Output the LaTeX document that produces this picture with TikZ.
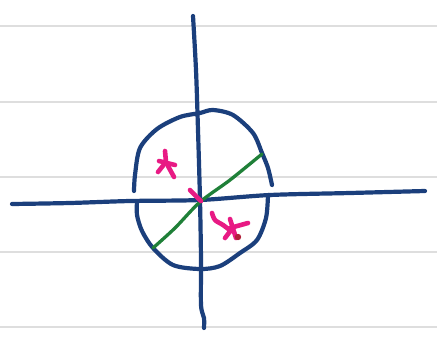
\documentclass[tikz,border=0pt]{standalone}
\usetikzlibrary{calc}
\usepackage{xcolor}
\definecolor{inkblue}{HTML}{1B3F7C}
\definecolor{inkgreen}{HTML}{1F8038}
\definecolor{inkpink}{HTML}{E81A84}
\definecolor{inkred}{HTML}{B0203A}
\definecolor{ruleline}{HTML}{DEDEDE}

\begin{document}
\begin{tikzpicture}[x=1pt, y=-1pt,
    bluepen/.style={inkblue, line width=4.2pt, line cap=round, line join=round},
    greenpen/.style={inkgreen, line width=3.3pt, line cap=round},
    pinkpen/.style={inkpink, line width=4.6pt, line cap=round, line join=round}]
    % paper
    \fill[white] (0,0) rectangle (437,338);
    \useasboundingbox (0,0) rectangle (437,338);
    \foreach \y in {26,102,177,252,327}
      \draw[ruleline, line width=1.3pt] (0,\y) -- (437,\y);
    % axes
    \draw[bluepen] plot[smooth] coordinates {(12,204) (70,203) (130,201) (200,200) (270,195) (350,193) (425,191)};
    \draw[bluepen] plot[smooth] coordinates {(193,16) (196,70) (198,130) (200,200) (201,260) (201,305) (204,318) (204,328)};
    % circle, in two strokes
    \draw[bluepen] plot[smooth] coordinates {(134,191) (135,175) (140,148) (157,129) (180,117) (200,113) (213,110) (233,115) (253,133) (262,153) (268,168) (272,185)};
    \draw[bluepen] plot[smooth] coordinates {(137,202) (137,215) (142,231) (153,248) (173,265) (200,269) (220,266) (240,253) (257,240) (266,218) (268,195)};
    % diameter
    \draw[greenpen] plot[smooth] coordinates {(153,248) (175,228) (200,202) (230,180) (262,154)};
    % marks
    \draw[pinkpen] (190,190) -- (201,201);
    \draw[pinkpen] (165,151) -- (166,162);
    \draw[pinkpen] (159,161) -- (175,165);
    \draw[pinkpen] (166,162) -- (158,172);
    \draw[pinkpen] (168,166) -- (174,177);
    \draw[pinkpen] plot[smooth] coordinates {(212,213) (215,220) (223,225) (231,231)};
    \draw[pinkpen] (230,228) -- (248,223);
    \draw[pinkpen] (230,219) -- (236,238);
    \draw[pinkpen] (231,230) -- (225,238);
    \fill[inkred] (238,237) circle (3.2);
\end{tikzpicture}
\end{document}
